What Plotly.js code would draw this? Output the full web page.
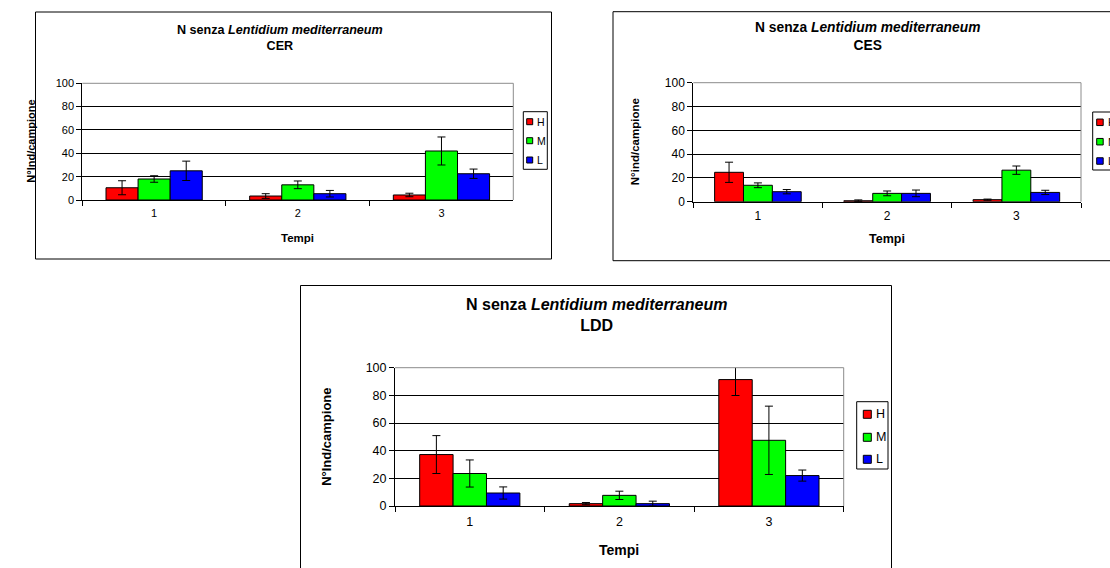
<!DOCTYPE html>
<html>
<head>
<meta charset="utf-8">
<script src="https://cdn.plot.ly/plotly-3.0.1.min.js"></script>
<style>
  html, body { margin: 0; padding: 0; background: #fff; overflow: hidden; }
  #chart { width: 1110px; height: 568px; }
</style>
</head>
<body>
<div id="chart"></div>
<script>
// Sampling times and size classes
const tempi = ['1', '2', '3'];
const classi = ['H', 'M', 'L'];
const coloriClassi = ['#FF0000', '#00FF00', '#0000FF'];

// CER station: mean N ind/campione and standard errors
const cerH = [10.5, 3.4, 4.3];
const cerHErr = [6.0, 2.0, 1.5];
const cerM = [18.0, 13.0, 42.0];
const cerMErr = [2.8, 3.3, 12.0];
const cerL = [25.0, 5.4, 22.5];
const cerLErr = [8.3, 2.8, 4.0];

// CES station
const cesH = [24.7, 0.8, 1.7];
const cesHErr = [8.5, 0.7, 0.5];
const cesM = [13.8, 7.0, 26.5];
const cesMErr = [2.0, 2.0, 3.5];
const cesL = [8.4, 7.0, 7.8];
const cesLErr = [1.8, 2.8, 1.8];

// LDD station
const lddH = [37.2, 1.7, 91.4];
const lddHErr = [13.7, 0.8, 11.5];
const lddM = [23.5, 7.7, 47.5];
const lddMErr = [9.8, 3.0, 24.7];
const lddL = [9.4, 1.7, 22.0];
const lddLErr = [4.4, 1.8, 4.0];

const W = 1110, H = 568;
const px = x => x / W;
const py = y => 1 - y / H;
const FONT = 'Liberation Sans, Arial, sans-serif';

// One panel per station: layout boxes are in page pixels
const panels = [
  {
    station: 'CER', ytitle: 'N°Ind/campione',
    series: [[cerH, cerHErr], [cerM, cerMErr], [cerL, cerLErr]],
    plot: [82.3, 83.3, 513.3, 200], frame: [35.5, 12, 551.5, 259],
    title: {x: 280, y: 38, size: 12.6},
    ytitlePos: {x: 31, size: 11},
    xtitle: {y: 237.7, size: 11.5},
    tickSize: 11, tickStandoff: 3,
    legend: {box: [523.3, 111.7, 547.3, 169.3], mark: [526.7, 6], rows: [121.7, 140.7, 160], textX: 535, size: 10.5}
  },
  {
    station: 'CES', ytitle: 'N°ind/campione',
    series: [[cesH, cesHErr], [cesM, cesMErr], [cesL, cesLErr]],
    plot: [693.3, 82.7, 1081, 201.7], frame: [613, 11.7, 1130, 260.7],
    title: {x: 867.5, y: 36.5, size: 13.8},
    ytitlePos: {x: 635, size: 11.5},
    xtitle: {y: 239.3, size: 12.5},
    tickSize: 12, tickStandoff: 3,
    legend: {box: [1092.7, 112, 1130, 170], mark: [1096.7, 6.5], rows: [122.3, 141.7, 161], textX: 1106, size: 11}
  },
  {
    station: 'LDD', ytitle: 'N°Ind/campione',
    series: [[lddH, lddHErr], [lddM, lddMErr], [lddL, lddLErr]],
    plot: [395, 367.7, 843.7, 506], frame: [300.5, 285.5, 891.5, 580],
    title: {x: 597, y: 315, size: 16},
    ytitlePos: {x: 327, size: 13},
    xtitle: {y: 550, size: 14},
    tickSize: 12.5, tickStandoff: 4,
    legend: {box: [856.7, 401.7, 888, 469], mark: [863.3, 8], rows: [414.3, 437.3, 459.3], textX: 873.5, size: 12.5}
  }
];

const traces = [];
const shapes = [];
const annotations = [];
const layout = {
  width: W, height: H,
  margin: {l: 0, r: 0, t: 0, b: 0, autoexpand: false},
  paper_bgcolor: '#fff', plot_bgcolor: '#fff',
  barmode: 'group', bargap: 0.33, bargroupgap: 0,
  showlegend: false,
  font: {family: FONT, color: '#000'}
};

const paperRect = (x0, y0, x1, y1, line, fill) => ({
  type: 'rect', xref: 'paper', yref: 'paper', layer: 'above',
  x0: px(x0), x1: px(x1), y0: py(y1), y1: py(y0),
  line: line, fillcolor: fill
});
const paperLine = (x0, y0, x1, y1, color) => ({
  type: 'line', xref: 'paper', yref: 'paper', layer: 'above',
  x0: px(x0), x1: px(x1), y0: py(y0), y1: py(y1),
  line: {color: color, width: 1}
});

panels.forEach((p, i) => {
  const n = i === 0 ? '' : String(i + 1);
  const xa = 'x' + n, ya = 'y' + n;
  const [x0, y0, x1, y1] = p.plot;

  layout['xaxis' + n] = {
    domain: [px(x0), px(x1)], anchor: ya,
    type: 'category', categoryorder: 'array', categoryarray: tempi,
    showline: true, linecolor: '#000', linewidth: 1,
    ticks: 'outside', tickson: 'boundaries', ticklen: 5, tickcolor: '#000', tickwidth: 1,
    ticklabelstandoff: p.tickStandoff,
    tickfont: {family: FONT, size: p.tickSize, color: '#000'},
    showgrid: false, zeroline: false, fixedrange: true
  };
  layout['yaxis' + n] = {
    domain: [py(y1), py(y0)], anchor: xa,
    range: [0, 100], dtick: 20, tick0: 0,
    showline: true, linecolor: '#000', linewidth: 1,
    ticks: 'outside', ticklen: 5, tickcolor: '#000', tickwidth: 1,
    tickfont: {family: FONT, size: p.tickSize, color: '#000'},
    showgrid: true, gridcolor: '#000', gridwidth: 1,
    zeroline: false, fixedrange: true
  };

  p.series.forEach(([vals, errs], k) => {
    traces.push({
      type: 'bar', name: classi[k], x: tempi, y: vals,
      xaxis: xa, yaxis: ya,
      marker: {color: coloriClassi[k], line: {color: '#000', width: 1}},
      error_y: {type: 'data', array: errs, visible: true, color: '#000', thickness: 1, width: 4},
      hoverinfo: 'skip'
    });
  });

  // chart frame
  shapes.push(paperRect(p.frame[0], p.frame[1], p.frame[2], p.frame[3],
    {color: '#000', width: 1}, 'rgba(0,0,0,0)'));
  // plot area border: grey on the top and right sides
  shapes.push(paperLine(x0, y0, x1, y0, '#8c8c8c'));
  shapes.push(paperLine(x1, y0, x1, y1, '#8c8c8c'));

  // chart title
  annotations.push({
    xref: 'paper', yref: 'paper', x: px(p.title.x), y: py(p.title.y),
    xanchor: 'center', yanchor: 'middle', showarrow: false, align: 'center',
    text: '<b>N senza <i>Lentidium mediterraneum</i></b><br><b>' + p.station + '</b>',
    font: {family: FONT, size: p.title.size, color: '#000'}
  });
  // axis titles
  annotations.push({
    xref: 'paper', yref: 'paper', x: px(p.ytitlePos.x), y: py((y0 + y1) / 2),
    xanchor: 'center', yanchor: 'middle', showarrow: false, textangle: -90,
    text: '<b>' + p.ytitle + '</b>',
    font: {family: FONT, size: p.ytitlePos.size, color: '#000'}
  });
  annotations.push({
    xref: 'paper', yref: 'paper', x: px((x0 + x1) / 2), y: py(p.xtitle.y),
    xanchor: 'center', yanchor: 'middle', showarrow: false,
    text: '<b>Tempi</b>',
    font: {family: FONT, size: p.xtitle.size, color: '#000'}
  });

  // legend: framed box with a swatch and label per size class
  const lg = p.legend;
  shapes.push(paperRect(lg.box[0], lg.box[1], lg.box[2], lg.box[3],
    {color: '#000', width: 1}, '#fff'));
  classi.forEach((c, k) => {
    const cy = lg.rows[k], s = lg.mark[1];
    shapes.push(paperRect(lg.mark[0], cy - s / 2, lg.mark[0] + s, cy + s / 2,
      {color: '#000', width: 1}, coloriClassi[k]));
    annotations.push({
      xref: 'paper', yref: 'paper', x: px(lg.textX), y: py(cy),
      xanchor: 'left', yanchor: 'middle', showarrow: false,
      text: c, font: {family: FONT, size: lg.size, color: '#000'}
    });
  });
});

layout.shapes = shapes;
layout.annotations = annotations;

Plotly.newPlot('chart', traces, layout, {staticPlot: true, displayModeBar: false});
</script>
</body>
</html>
